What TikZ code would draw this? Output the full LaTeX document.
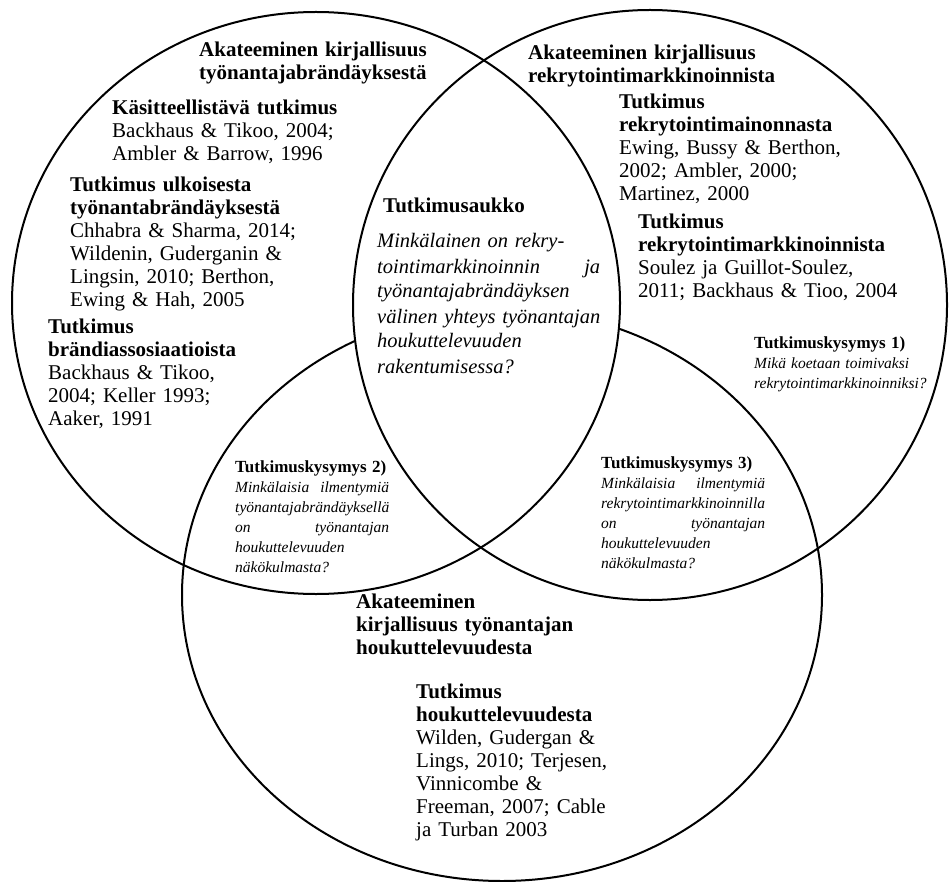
\documentclass[tikz,border=0pt]{standalone}
\usepackage{fontspec}
\setmainfont{Liberation Serif}
\usetikzlibrary{positioning}

\newcommand{\jline}[2]{\makebox[\hsize]{#1\hfill #2}}
\newcommand{\kysots}[1]{{\fontsize{17}{20}\selectfont\bfseries\upshape #1}}

\begin{document}
\begin{tikzpicture}[x=1pt, y=-1pt,
  venn/.style={line width=2pt},
  lahde/.style={anchor=base west, inner sep=0pt, align=left, text width=280pt, font=\fontsize{21}{23}\selectfont},
  aukko/.style={anchor=base west, inner sep=0pt, align=left, text width=223pt, font=\fontsize{20.5}{25}\selectfont\itshape},
  kysymys/.style={anchor=base west, inner sep=0pt, align=left, font=\fontsize{15.5}{20}\selectfont\itshape}]
\useasboundingbox (0,0) rectangle (949,882);

\coordinate (vasen) at (316,303);
\coordinate (oikea) at (650,305);
\coordinate (ala) at (502,595);

% ympyrat
\draw [venn] (ala) ellipse [x radius=320, y radius=286];
\begin{scope}
\clip (vasen) ellipse [x radius=304, y radius=291];
\fill [white] (oikea) ellipse [x radius=297, y radius=295];
\end{scope}
\draw [venn] (vasen) ellipse [x radius=304, y radius=291];
\draw [venn] (oikea) ellipse [x radius=297, y radius=295];

% vasen ympyra
\node [lahde] (tbotsikko) at (199,57) {\textbf{Akateeminen kirjallisuus}\\ \textbf{työnantajabrändäyksestä}};
\node [lahde] (kasite) at (112,115) {\textbf{Käsitteellistävä tutkimus}\\ Backhaus \& Tikoo, 2004;\\ Ambler \& Barrow, 1996};
\node [lahde] (ulkoinen) at (70,192) {\textbf{Tutkimus ulkoisesta}\\ \textbf{työnantabrändäyksestä}\\ Chhabra \& Sharma, 2014;\\ Wildenin, Guderganin \&\\ Lingsin, 2010; Berthon,\\ Ewing \& Hah, 2005};
\node [lahde] (assos) at (48,333) {\textbf{Tutkimus}\\ \textbf{brändiassosiaatioista}\\ Backhaus \& Tikoo,\\ 2004; Keller 1993;\\ Aaker, 1991};

% oikea ympyra
\node [lahde] (rmotsikko) at (528,60) {\textbf{Akateeminen kirjallisuus}\\ \textbf{rekrytointimarkkinoinnista}};
\node [lahde] (mainonta) at (619,109) {\textbf{Tutkimus}\\ \textbf{rekrytointimainonnasta}\\ Ewing, Bussy \& Berthon,\\ 2002; Ambler, 2000;\\ Martinez, 2000};
\node [lahde] (markkinointi) at (638,229) {\textbf{Tutkimus}\\ \textbf{rekrytointimarkkinoinnista}\\ Soulez ja Guillot-Soulez,\\ 2011; Backhaus \& Tioo, 2004};

% alempi ympyra
\node [lahde] (hkotsikko) at (356,608) {\textbf{Akateeminen}\\ \textbf{kirjallisuus työnantajan}\\ \textbf{houkuttelevuudesta}};
\node [lahde] (houkutt) at (416,698) {\textbf{Tutkimus}\\ \textbf{houkuttelevuudesta}\\ Wilden, Gudergan \&\\ Lings, 2010; Terjesen,\\ Vinnicombe \&\\ Freeman, 2007; Cable\\ ja Turban 2003};

% keskiosa
\node [lahde] (aukkots) at (383,213) {\textbf{Tutkimusaukko}};
\node [aukko] (aukkokys) at (377,248) {Minkälainen on rekry-\\ \jline{tointimarkkinoinnin}{ja}\\ työnantajabrändäyksen\\ \mbox{välinen yhteys työnantajan}\\ houkuttelevuuden\\ rakentumisessa?};

% tutkimuskysymykset
\node [kysymys, text width=180pt] (kys1) at (754,348) {\kysots{Tutkimuskysymys 1)}\\ Mikä koetaan toimivaksi\\ rekrytointimarkkinoinniksi?};
\node [kysymys, text width=154pt] (kys2) at (235,472) {\kysots{Tutkimuskysymys 2)}\\ \jline{Minkälaisia}{ilmentymiä}\\ työnantajabrändäyksellä\\ \jline{on}{työnantajan}\\ houkuttelevuuden\\ näkökulmasta?};
\node [kysymys, text width=164pt] (kys3) at (601,468) {\kysots{Tutkimuskysymys 3)}\\ \jline{Minkälaisia}{ilmentymiä}\\ rekrytointimarkkinoinnilla\\ \jline{on}{työnantajan}\\ houkuttelevuuden\\ näkökulmasta?};
\end{tikzpicture}
\end{document}
